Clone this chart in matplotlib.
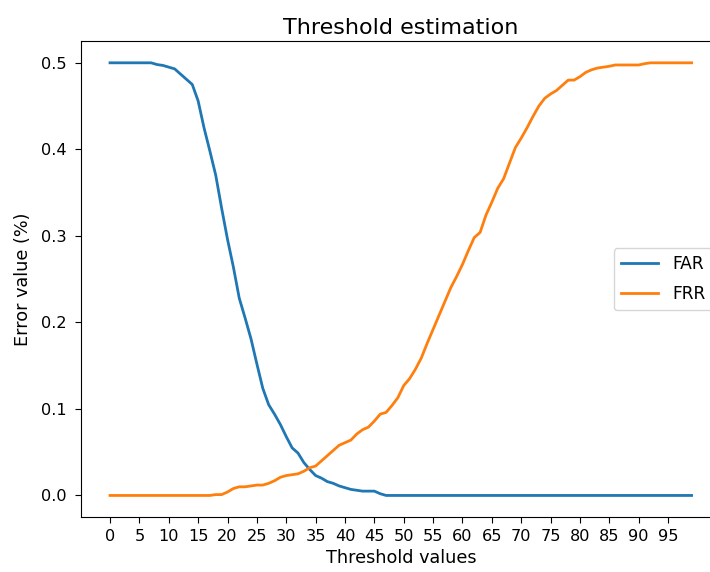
import matplotlib
matplotlib.use("Agg")
import matplotlib.pyplot as plt

# -------- data --------
thresholds = list(range(100))

far = [0.5] * 8 + [
    0.498, 0.497, 0.495, 0.493, 0.487, 0.481, 0.475, 0.456, 0.425, 0.398,
    0.370, 0.332, 0.296, 0.264, 0.228, 0.205, 0.181, 0.152, 0.124, 0.105,
    0.094, 0.082, 0.068, 0.055, 0.049, 0.038, 0.030, 0.023, 0.020, 0.016,
    0.014, 0.011, 0.009, 0.007, 0.006, 0.005, 0.005, 0.005, 0.002,
] + [0.0] * 53

frr = [0.0] * 18 + [
    0.001, 0.001, 0.004, 0.008, 0.010, 0.010, 0.011, 0.012, 0.012, 0.014,
    0.017, 0.021, 0.023, 0.024, 0.025, 0.028, 0.032, 0.034, 0.040, 0.046,
    0.052, 0.058, 0.061, 0.064, 0.071, 0.076, 0.079, 0.086, 0.094, 0.096,
    0.104, 0.113, 0.127, 0.135, 0.146, 0.159, 0.176, 0.192, 0.208, 0.224,
    0.240, 0.253, 0.267, 0.283, 0.298, 0.304, 0.324, 0.339, 0.355, 0.366,
    0.384, 0.402, 0.413, 0.425, 0.438, 0.450, 0.459, 0.464, 0.468, 0.474,
    0.480, 0.480, 0.484, 0.489, 0.492, 0.494, 0.495, 0.496, 0.4975, 0.4975,
    0.4975, 0.4975, 0.4975, 0.499,
] + [0.5] * 8

# -------- plot --------
fig = plt.figure(figsize=(7.1, 5.72), dpi=100)
# axes run past the right edge of the figure, like the cropped original
ax = fig.add_axes([0.114, 0.096, 0.901, 0.832])

ax.plot(thresholds, far, label='FAR', linewidth=2)
ax.plot(thresholds, frr, label='FRR', linewidth=2)

ax.set_xticks(range(0, 100, 5))
ax.tick_params(axis='x', labelsize=11.6, length=4.5, pad=4)
ax.tick_params(axis='y', labelsize=11.6, length=4.5, pad=5.5)
ax.set_title('Threshold estimation', fontsize=16, pad=5)
ax.set_xlabel('Threshold values', fontsize=12.7, labelpad=3.5)
ax.set_ylabel('Error value (%)', fontsize=12.7, labelpad=7)
ax.legend(loc='center right', fontsize=12.3, labelspacing=0.7, handlelength=2.2)

fig.savefig('out.png', dpi=100)
